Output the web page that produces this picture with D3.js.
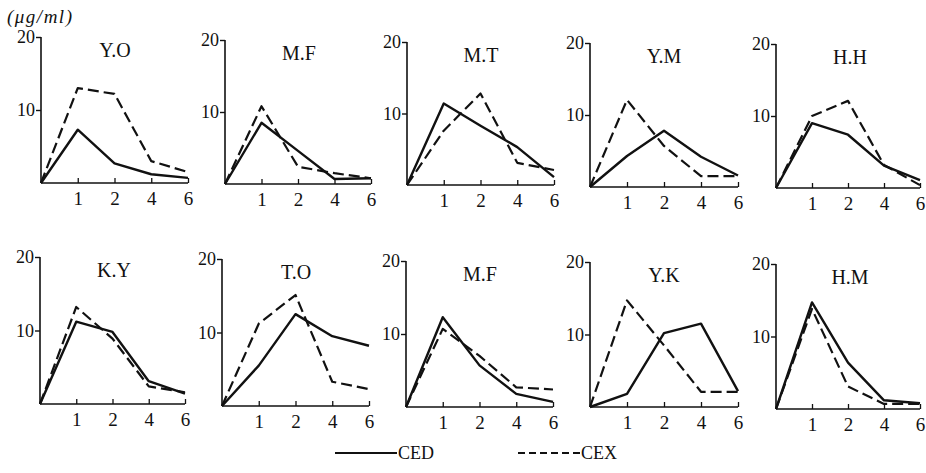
<!DOCTYPE html>
<html><head><meta charset="utf-8">
<script src="https://cdn.jsdelivr.net/npm/d3@7"></script>
<style>
body{margin:0;background:#fff;}
svg{display:block;}
text{font-family:"Liberation Serif",serif;fill:#111;}
</style></head>
<body>
<svg id="chart" width="926" height="473"></svg>
<script>
// ---- data ----
const panelNames = ["Y.O","M.F","M.T","Y.M","H.H","K.Y","T.O","M.F","Y.K","H.M"];
const timePoints = [0, 1, 2, 4, 6];          // hours (categorical, evenly spaced)
const xTickLabels = ["1", "2", "4", "6"];
const yTickValues = [10, 20];
const seriesNames = ["CED", "CEX"];
const cedValues = [
  [0, 7.3, 2.7, 1.2, 0.7],
  [0, 8.5, 4.6, 0.7, 0.8],
  [0, 11.4, 8.3, 5.3, 1.1],
  [0, 4.3, 7.8, 4.2, 1.6],
  [0, 9.0, 7.4, 3.1, 1.1],
  [0, 11.2, 9.8, 3.1, 1.4],
  [0, 5.5, 12.5, 9.5, 8.2],
  [0, 12.3, 5.7, 1.8, 0.7],
  [0, 1.8, 10.2, 11.5, 2.2],
  [0, 14.7, 6.4, 1.2, 0.8]
];
const cexValues = [
  [0, 13.0, 12.2, 3.0, 1.5],
  [0, 10.8, 2.4, 1.5, 0.8],
  [0, 7.6, 12.8, 3.1, 2.1],
  [0, 12.1, 5.7, 1.5, 1.5],
  [0, 10.0, 12.1, 3.2, 0.4],
  [0, 13.2, 8.9, 2.4, 1.6],
  [0, 11.2, 15.1, 3.3, 2.3],
  [0, 10.7, 7.0, 2.7, 2.4],
  [0, 14.7, 8.5, 2.1, 2.1],
  [0, 13.8, 3.1, 0.7, 0.7]
];
const unitLabel = "(\u03BCg/ml)";

// ---- layout ----
const panelLeft = [41, 225, 407, 590, 776, 40, 222, 406, 590, 776];
const panelTop  = [37, 40, 42, 43, 44, 257, 259, 261, 262, 264];
const panelBase = [183, 184, 185, 187, 188, 404, 406, 407, 407, 409];
const panelWidth = [147, 146, 147, 148, 144, 145, 147, 147, 148, 144];
const FONT = '"Liberation Serif",serif';

const svg = d3.select("#chart");

svg.append("text").attr("x", 7).attr("y", 23)
  .style("font-style", "italic").style("font-size", "19px").style("letter-spacing", "1.5px")
  .text(unitLabel);

panelNames.forEach((name, i) => {
  const w = panelWidth[i];
  const g = svg.append("g").attr("transform", `translate(${panelLeft[i]},0)`);
  const x = d3.scalePoint().domain(timePoints).range([0, w]);
  const y = d3.scaleLinear().domain([0, 20]).range([panelBase[i], panelTop[i]]);

  // y axis
  const ya = g.append("g").call(d3.axisLeft(y).tickValues(yTickValues).tickSize(5).tickPadding(1).tickFormat(d3.format("d")))
    .attr("font-family", FONT).attr("font-size", 18);
  ya.select(".domain").attr("d", `M0,${panelTop[i]}V${panelBase[i]}`).attr("stroke", "#111").attr("stroke-width", 1.6);
  ya.selectAll(".tick line").attr("stroke", "#111").attr("stroke-width", 1.4);
  ya.selectAll(".tick text").attr("fill", "#111");

  // x axis
  const xa = g.append("g").attr("transform", `translate(0,${panelBase[i]})`)
    .call(d3.axisBottom(x).tickValues(timePoints.slice(1)).tickSize(-5).tickPadding(9)
      .tickFormat((d, k) => xTickLabels[k]))
    .attr("font-family", FONT).attr("font-size", 19);
  xa.select(".domain").attr("d", `M0,0H${w}`).attr("stroke", "#111").attr("stroke-width", 1.6);
  xa.selectAll(".tick line").attr("stroke", "#111").attr("stroke-width", 1.3);
  xa.selectAll(".tick text").attr("fill", "#111");

  // title
  g.append("text").attr("x", 74).attr("y", panelTop[i] + 20)
    .attr("text-anchor", "middle").style("font-size", "20px").text(name);

  const line = d3.line().x((d, k) => x(timePoints[k])).y(d => y(d));
  g.append("path").datum(cexValues[i]).attr("d", line)
    .attr("fill", "none").attr("stroke", "#111").attr("stroke-width", 2.2)
    .attr("stroke-dasharray", "11,5").attr("stroke-linejoin", "round");
  g.append("path").datum(cedValues[i]).attr("d", line)
    .attr("fill", "none").attr("stroke", "#111").attr("stroke-width", 2.4)
    .attr("stroke-linejoin", "round");
});

// legend
const legend = svg.append("g");
const legendItems = [
  {name: seriesNames[0], x1: 335, x2: 397, dash: null},
  {name: seriesNames[1], x1: 518, x2: 580, dash: "7,4"}
];
legendItems.forEach(it => {
  legend.append("line").attr("x1", it.x1).attr("x2", it.x2).attr("y1", 453).attr("y2", 453)
    .attr("stroke", "#111").attr("stroke-width", 1.8).attr("stroke-dasharray", it.dash);
  legend.append("text").attr("x", it.x2 + 1).attr("y", 459).style("font-size", "18px").text(it.name);
});
</script>
</body></html>
